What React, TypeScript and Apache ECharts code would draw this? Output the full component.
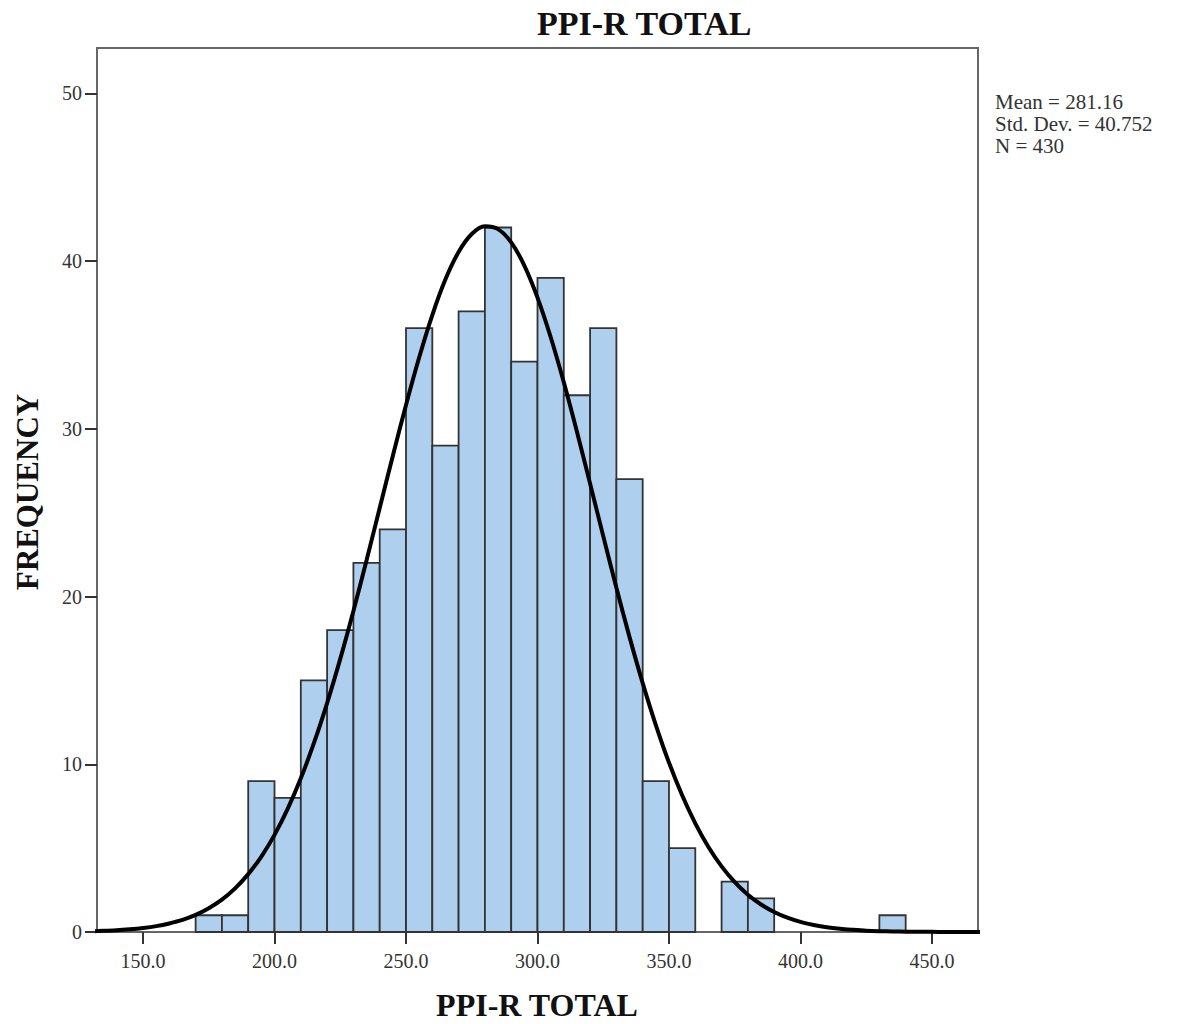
import React, { useEffect, useRef } from "react";
import * as echarts from "echarts";

const chartTitle = "PPI-R TOTAL";
const xAxisName = "PPI-R TOTAL";
const yAxisName = "FREQUENCY";
const statsLines = ["Mean = 281.16", "Std. Dev. = 40.752", "N = 430"];

const binWidth = 10;
const binStarts = [170, 180, 190, 200, 210, 220, 230, 240, 250, 260, 270, 280, 290, 300, 310, 320, 330, 340, 350, 370, 380, 430];
const binCounts = [1, 1, 9, 8, 15, 18, 22, 24, 36, 29, 37, 42, 34, 39, 32, 36, 27, 9, 5, 3, 2, 1];

// normal curve
const curveX = [130, 135, 140, 145, 150, 155, 160, 165, 170, 175, 180, 185, 190, 195, 200, 205, 210, 215, 220, 225, 230, 235, 240, 245, 250, 255, 260, 265, 270, 275, 280, 285, 290, 295, 300, 305, 310, 315, 320, 325, 330, 335, 340, 345, 350, 355, 360, 365, 370, 375, 380, 385, 390, 395, 400, 405, 410, 415, 420, 425, 430, 435, 440, 445, 450, 455, 460, 465, 470];
const curveY = [0.04, 0.07, 0.1, 0.16, 0.24, 0.35, 0.51, 0.72, 1.02, 1.42, 1.93, 2.6, 3.45, 4.5, 5.79, 7.34, 9.16, 11.27, 13.65, 16.28, 19.14, 22.16, 25.28, 28.39, 31.42, 34.25, 36.78, 38.91, 40.54, 41.61, 42.07, 41.9, 41.11, 39.73, 37.82, 35.47, 32.77, 29.82, 26.73, 23.6, 20.52, 17.58, 14.84, 12.34, 10.1, 8.15, 6.48, 5.07, 3.91, 2.97, 2.22, 1.64, 1.19, 0.85, 0.6, 0.42, 0.28, 0.19, 0.13, 0.08, 0.05, 0.03, 0.02, 0.01, 0.01, 0.0, 0.0, 0.0, 0.0];

const xTicks = [150, 200, 250, 300, 350, 400, 450];
const yTicks = [0, 10, 20, 30, 40, 50];

const FONT = "'Liberation Serif', 'Times New Roman', serif";

export default function App() {
  const ref = useRef<HTMLDivElement>(null);
  useEffect(() => {
    document.body.style.margin = "0";
    const chart = echarts.init(ref.current!, null, { renderer: "svg" });
    const histData = binStarts.map((s, i) => [s, s + binWidth, binCounts[i]]);
    const curveData = curveX.map((x, i) => [x, curveY[i]]);
    chart.setOption({
      animation: false,
      backgroundColor: "#ffffff",
      textStyle: { fontFamily: FONT },
      grid: {
        left: 97,
        right: 202,
        top: 48,
        bottom: 92,
        show: true,
        borderColor: "#666666",
        borderWidth: 2,
        backgroundColor: "#ffffff",
      },
      xAxis: {
        type: "value",
        min: 132.5,
        max: 467.5,
        splitLine: { show: false },
        axisLine: { show: false },
        axisTick: { show: true, inside: false, length: 12, lineStyle: { color: "#333", width: 2 }, customValues: xTicks },
        axisLabel: {
          customValues: xTicks,
          formatter: (v: number) => v.toFixed(1),
          fontSize: 20,
          color: "#333",
          fontFamily: FONT,
          margin: 19,
        },
      },
      yAxis: {
        type: "value",
        min: 0,
        max: 52.7,
        splitLine: { show: false },
        axisLine: { show: false },
        axisTick: { show: true, inside: false, length: 12, lineStyle: { color: "#333", width: 2 }, customValues: yTicks },
        axisLabel: {
          customValues: yTicks,
          fontSize: 20,
          color: "#333",
          fontFamily: FONT,
          margin: 15,
        },
      },
      series: [
        {
          type: "custom",
          data: histData,
          encode: { x: [0, 1], y: 2 },
          z: 2,
          renderItem: (params: any, api: any) => {
            const tl = api.coord([api.value(0), api.value(2)]);
            const br = api.coord([api.value(1), 0]);
            return {
              type: "rect",
              shape: { x: tl[0], y: tl[1], width: br[0] - tl[0], height: br[1] - tl[1] },
              style: { fill: "#aed0ee", stroke: "#333333", lineWidth: 1.8 },
            };
          },
        },
        {
          type: "line",
          data: curveData,
          smooth: 0.3,
          symbol: "none",
          z: 3,
          lineStyle: { color: "#000000", width: 4 },
        },
      ],
      graphic: [
        {
          type: "text",
          left: 537,
          top: 6,
          style: { text: chartTitle, font: `bold 34px ${FONT}`, fill: "#111" },
        },
        {
          type: "text",
          x: 537,
          y: 1005,
          style: { text: xAxisName, font: `bold 32px ${FONT}`, fill: "#111", align: "center", verticalAlign: "middle" },
        },
        {
          type: "text",
          x: 27,
          y: 492,
          rotation: Math.PI / 2,
          style: { text: yAxisName, font: `bold 31px ${FONT}`, fill: "#111", align: "center", verticalAlign: "middle" },
        },
        {
          type: "text",
          x: 995,
          y: 91,
          style: { text: statsLines.join("\n"), font: `21px ${FONT}`, lineHeight: 22, fill: "#333" },
        },
      ],
    });
    return () => chart.dispose();
  }, []);
  return <div ref={ref} style={{ width: 1180, height: 1024 }} />;
}
